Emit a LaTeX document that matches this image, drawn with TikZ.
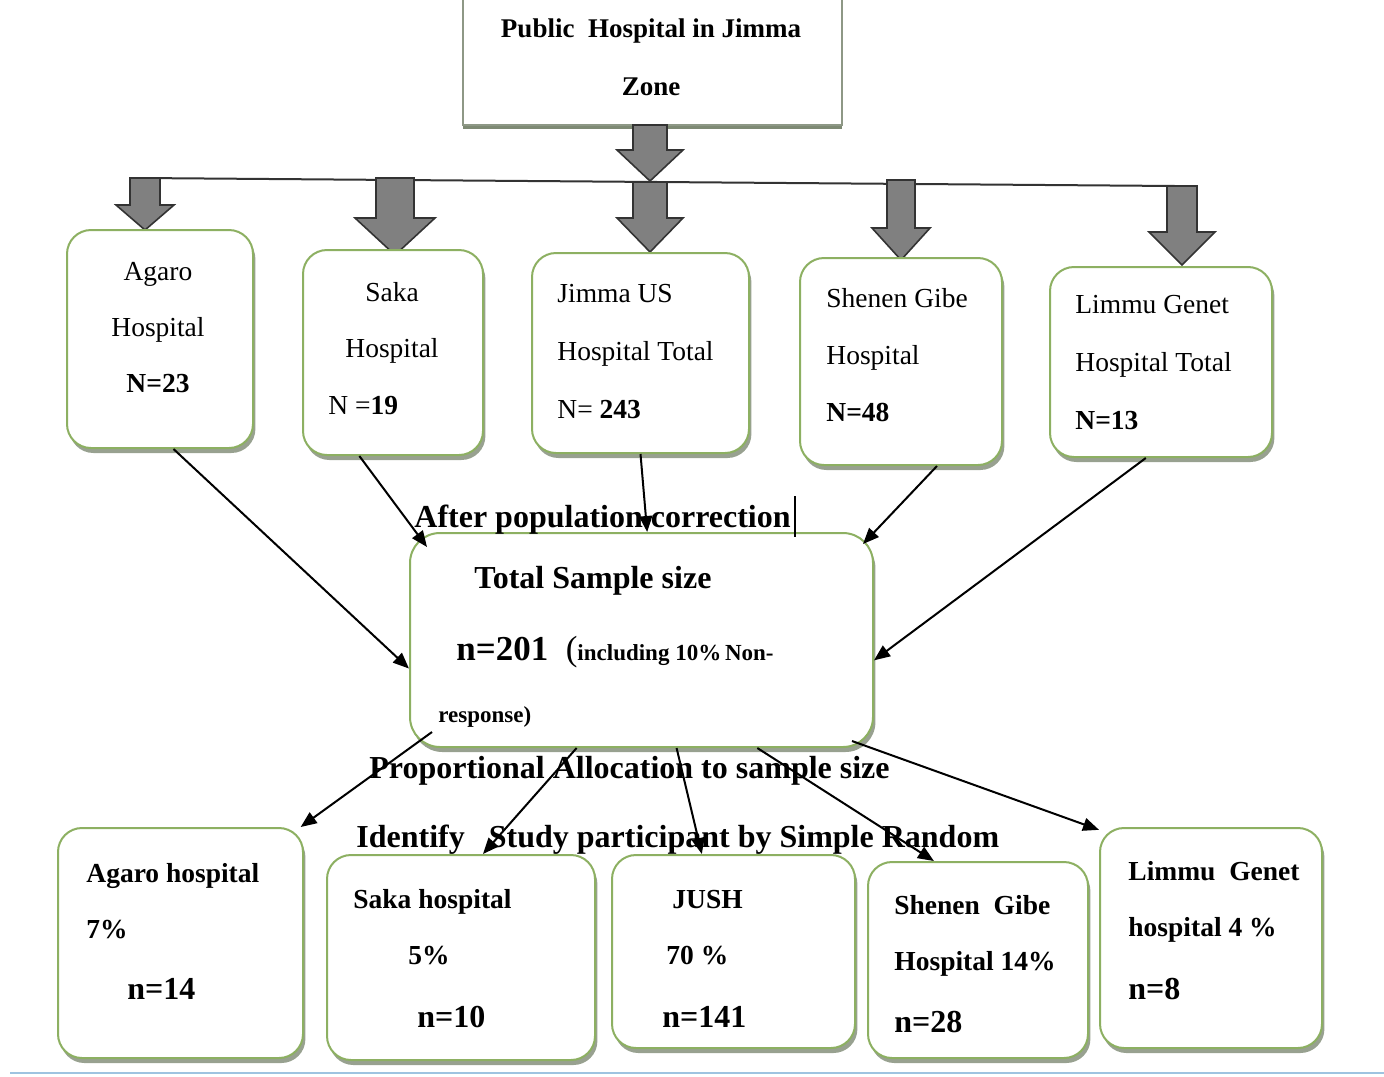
\documentclass[tikz,border=0pt]{standalone}
\usepackage{fontspec}
\setmainfont{Liberation Serif}
\usetikzlibrary{arrows.meta, positioning, calc, fit, shadows}

\definecolor{boxgreen}{HTML}{8DB062}
\definecolor{boxshade}{HTML}{7E8A74}
\definecolor{zoneline}{HTML}{8E9886}
\definecolor{arrowgray}{HTML}{808080}
\definecolor{pageblue}{HTML}{9EC3E0}

\tikzset{
  hospbox/.style={draw=boxgreen, line width=1pt, fill=white, rounded corners=12pt, inner sep=0pt,
    drop shadow={shadow xshift=1.2pt, shadow yshift=-2.5pt, fill=boxshade, opacity=0.8}},
  zonebox/.style={draw=zoneline, line width=1.3pt, fill=white, inner sep=0pt,
    drop shadow={shadow xshift=0pt, shadow yshift=-2pt, fill=boxshade, opacity=1}},
  blockarr/.style={draw=black!80, fill=arrowgray, line width=0.8pt},
  link/.style={-{Triangle[length=8pt, width=6.5pt]}, line width=1pt},
  txt/.style={inner sep=0pt, font=\fontsize{13.75}{28}\selectfont},
  btxt/.style={inner sep=0pt, font=\bfseries\fontsize{13.75}{28}\selectfont},
  big/.style={inner sep=0pt, font=\bfseries\fontsize{16}{20}\selectfont},
}

% x, top, neck, tip, half shaft, half head
\newcommand{\blockarrow}[6]{%
  \draw[blockarr] (#1-#5,#2) -- (#1+#5,#2) -- (#1+#5,#3) -- (#1+#6,#3) -- (#1,#4)
    -- (#1-#6,#3) -- (#1-#5,#3) -- cycle;}

\begin{document}
\begin{tikzpicture}[x=0.5pt, y=-0.5pt]
  \useasboundingbox (0,0) rectangle (1384,1076);

  % Top box
  \node[zonebox, fit={(463,-20) (842,125)}] (zone) {};
  \node[inner sep=0pt, anchor=north, align=center, font=\bfseries\fontsize{13.5}{29}\selectfont]
    (zonetxt) at (651,18.5) {Public\ \ Hospital in Jimma\\Zone};

  % Distribution line
  \coordinate (busL) at (140,178);
  \coordinate (busR) at (1175,186);
  \draw[line width=1pt, black!80] (busL) -- (busR);

  % Block arrows
  \blockarrow{650}{125}{150}{181}{17}{33}
  \blockarrow{145}{178}{205}{230}{15}{29}
  \blockarrow{395}{178}{218}{255}{19}{40}
  \blockarrow{650}{182}{218}{252}{17}{33}
  \blockarrow{901}{180}{228}{260}{14}{29}
  \blockarrow{1182}{186}{232}{265}{15}{33}

  % Hospitals (population)
  \node[hospbox, fit={(67,230) (253,448)}] (agaroU) {};
  \node[hospbox, fit={(303,250) (483,455)}] (sakaU) {};
  \node[hospbox, fit={(532,253) (749,453)}] (jimmaU) {};
  \node[hospbox, fit={(800,258) (1002,465)}] (shenenU) {};
  \node[hospbox, fit={(1050,267) (1272,457)}] (limmuU) {};

  \node[txt, anchor=north, align=center] (agaroUt) at (158,262.4) {Agaro\\Hospital\\\textbf{N=23}};
  \node[txt, anchor=north, align=center] (sakaUt) at (392,282.4) {Saka\\Hospital};
  \node[txt, anchor=north west] (sakaUn) at (328,395.4) {N =\textbf{19}};
  \node[txt, anchor=north west, align=left, font=\fontsize{13.75}{29}\selectfont]
    (jimmaUt) at (557,283.4) {Jimma US\\Hospital Total\\N= \textbf{243}};
  \node[txt, anchor=north west, align=left, font=\fontsize{13.75}{28.5}\selectfont]
    (shenenUt) at (826,288.4) {Shenen Gibe\\Hospital\\\textbf{N=48}};
  \node[txt, anchor=north west, align=left, font=\fontsize{13.75}{29}\selectfont]
    (limmuUt) at (1075,294.4) {Limmu Genet\\Hospital Total\\\textbf{N=13}};

  % Total sample
  \node[hospbox, rounded corners=15pt, fit={(410,533) (873,747)}] (total) {};
  \node[big, anchor=north west] (totaltxt) at (474,566) {Total Sample size};
  \node[inner sep=0pt, anchor=base west] (ntxt) at (456,660)
    {\fontsize{17.5}{20}\selectfont\textbf{n=201}\ \ (\fontsize{11.5}{14}\selectfont\textbf{including 10\%\,Non-}};
  \node[inner sep=0pt, anchor=base west, font=\bfseries\fontsize{11.5}{14}\selectfont]
    (resptxt) at (438,722) {response)};

  \node[big, anchor=base west] (aftertxt) at (414,527) {After population correction};
  \draw[line width=1pt] (795,496) -- (795,537);
  \node[big, anchor=base west] (proptxt) at (369,778) {Proportional Allocation to sample size};
  \node[big, anchor=base west] (identtxt) at (356,847) {Identify\ \ \ Study participant by Simple Random};

  % Hospitals (sample)
  \node[hospbox, fit={(58,828) (303,1058)}] (agaroB) {};
  \node[hospbox, fit={(327,855) (595,1060)}] (sakaB) {};
  \node[hospbox, fit={(612,855) (855,1048)}] (jushB) {};
  \node[hospbox, fit={(868,862) (1088,1058)}] (shenenB) {};
  \node[hospbox, fit={(1100,828) (1322,1048)}] (limmuB) {};

  \node[btxt, anchor=north west, align=left] (agaroBt) at (86,863.4) {Agaro hospital\\7\%};
  \node[big, anchor=base west] (agaroBn) at (127,999) {n=14};
  \node[btxt, anchor=north west] (sakaBt) at (353,889.4) {Saka hospital};
  \node[btxt, anchor=north west] (sakaBp) at (408,945.4) {5\%};
  \node[big, anchor=base west] (sakaBn) at (417,1027) {n=10};
  \node[btxt, anchor=north west] (jushBt) at (672,889.4) {JUSH};
  \node[btxt, anchor=north west] (jushBp) at (666,945.4) {70 \%};
  \node[big, anchor=base west] (jushBn) at (662,1027) {n=141};
  \node[btxt, anchor=north west, align=left] (shenenBt) at (894,895.4) {Shenen\ \ Gibe\\Hospital 14\%};
  \node[big, anchor=base west] (shenenBn) at (894,1032) {n=28};
  \node[btxt, anchor=north west, align=left] (limmuBt) at (1128,861.4) {Limmu\ \ Genet\\hospital 4 \%};
  \node[big, anchor=base west] (limmuBn) at (1128,999) {n=8};

  % Arrows to total
  \draw[link] (agaroU.-83) -- (total.187);
  \draw[link] (sakaU.-108) -- ($(total.north west)+(18,15)$);
  \draw[link] (jimmaU.-90) -- (total.87);
  \draw[link] (shenenU.-71) -- ($(total.north east)+(-11,12)$);
  \draw[link] (limmuU.-99) -- (total.-5);

  % Arrows to samples
  \draw[link] ($(total.south west)+(23,-16)$) -- (agaroB.44);
  \draw[link] (total.239) -- (sakaB.78);
  \draw[link] (total.288) -- (jushB.108);
  \draw[link] (total.-43) -- (shenenB.114);
  \draw[link] ($(total.south east)+(-22,-7)$) -- (limmuB.136);

  % Page edge
  \draw[pageblue, line width=1pt] (10,1073) -- (1384,1073);
\end{tikzpicture}
\end{document}
